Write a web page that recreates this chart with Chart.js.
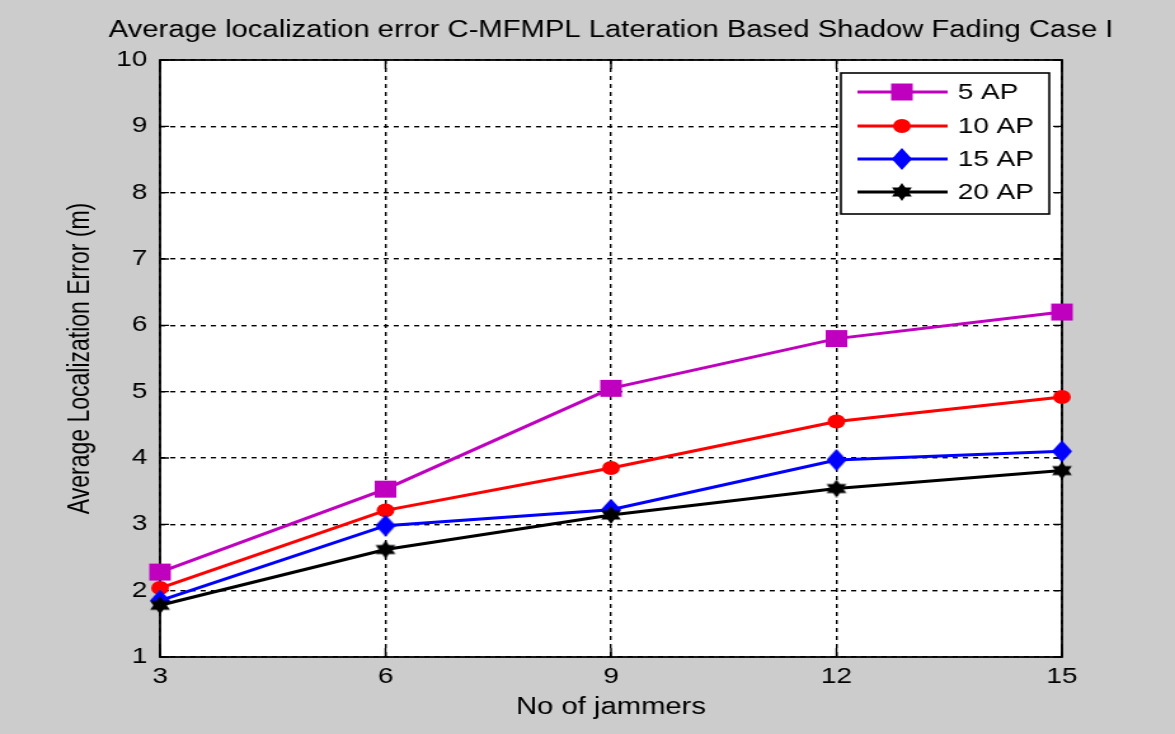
<!DOCTYPE html>
<html>
<head>
<meta charset="utf-8">
<script src="https://cdn.jsdelivr.net/npm/chart.js@4/dist/chart.umd.min.js"></script>
<style>
  html, body { margin: 0; padding: 0; background: #cccccc; overflow: hidden; }
  #c { display: block; }
</style>
</head>
<body>
<canvas id="c" width="925" height="734" style="width:1175px;height:734px;display:block;"></canvas>
<script>
// ---- data ----
const jammers = [3, 6, 9, 12, 15];
const ap5  = [2.28, 3.53, 5.05, 5.80, 6.20];
const ap10 = [2.04, 3.21, 3.85, 4.55, 4.92];
const ap15 = [1.85, 2.98, 3.22, 3.97, 4.10];
const ap20 = [1.78, 2.62, 3.14, 3.54, 3.81];
const seriesNames = ['5 AP', '10 AP', '15 AP', '20 AP'];
const yTickValues = [1, 2, 3, 4, 5, 6, 7, 8, 9, 10];
const xTickValues = [3, 6, 9, 12, 15];
const titleText = 'Average localization error C-MFMPL Lateration Based Shadow Fading Case I';
const xTitle = 'No of jammers';
const yTitle = 'Average Localization Error (m)';

const FONT = '"Liberation Sans", Arial, sans-serif';

// custom marker images
function diamondImg(color) {
  const c = document.createElement('canvas');
  c.width = 16; c.height = 22;
  const g = c.getContext('2d');
  g.fillStyle = color;
  g.beginPath();
  g.moveTo(8, 0); g.lineTo(16, 11); g.lineTo(8, 22); g.lineTo(0, 11); g.closePath();
  g.fill();
  return c;
}
function hexagramImg(color) {
  const c = document.createElement('canvas');
  c.width = 18; c.height = 18;
  const g = c.getContext('2d');
  g.fillStyle = color;
  const cx = 9, cy = 9, r = 9;
  for (const off of [-Math.PI / 2, Math.PI / 2]) {
    g.beginPath();
    for (let i = 0; i < 3; i++) {
      const a = off + i * 2 * Math.PI / 3;
      const px = cx + r * Math.cos(a), py = cy + r * Math.sin(a);
      if (i === 0) g.moveTo(px, py); else g.lineTo(px, py);
    }
    g.closePath();
    g.fill();
  }
  return c;
}

const colors = ['#bf00bf', '#ff0000', '#0000ff', '#000000'];
const styles = ['rect', 'circle', diamondImg('#0000ff'), hexagramImg('#000000')];
const radii = [12, 7, 10, 9];
const seriesValues = [ap5, ap10, ap15, ap20];

const datasets = seriesValues.map((vals, i) => ({
  label: seriesNames[i],
  data: jammers.map((x, j) => ({ x: x, y: vals[j] })),
  borderColor: colors[i],
  backgroundColor: colors[i],
  borderWidth: 3,
  pointStyle: styles[i],
  pointRadius: radii[i],
  pointHoverRadius: radii[i],
  pointBorderWidth: 0,
  pointBackgroundColor: colors[i],
  tension: 0,
  clip: false,
  order: 4 - i
}));

const framePlugin = {
  id: 'frame',
  beforeDraw(chart) {
    const { ctx, chartArea: a } = chart;
    ctx.save();
    ctx.fillStyle = '#cccccc';
    ctx.fillRect(0, 0, chart.width, chart.height);
    ctx.fillStyle = '#ffffff';
    ctx.fillRect(a.left, a.top, a.right - a.left, a.bottom - a.top);
    ctx.restore();
  },
  beforeDatasetsDraw(chart) {
    const { ctx, chartArea: a, scales } = chart;
    ctx.save();
    ctx.setLineDash([]);
    ctx.strokeStyle = '#000000';
    // inward ticks
    ctx.lineWidth = 1.4;
    ctx.beginPath();
    yTickValues.forEach(v => {
      const y = scales.y.getPixelForValue(v);
      ctx.moveTo(a.left, y); ctx.lineTo(a.left + 7, y);
      ctx.moveTo(a.right, y); ctx.lineTo(a.right - 7, y);
    });
    xTickValues.forEach(v => {
      const x = scales.x.getPixelForValue(v);
      ctx.moveTo(x, a.bottom); ctx.lineTo(x, a.bottom - 9);
      ctx.moveTo(x, a.top); ctx.lineTo(x, a.top + 9);
    });
    ctx.stroke();
    // frame
    ctx.lineWidth = 1.8;
    ctx.strokeRect(a.left, a.top, a.right - a.left, a.bottom - a.top);
    ctx.restore();
  },
  afterDraw(chart) {
    const { ctx, chartArea: a } = chart;
    ctx.save();
    ctx.setLineDash([]);
    // title
    ctx.fillStyle = '#000000';
    ctx.font = '23px ' + FONT;
    ctx.textAlign = 'center';
    ctx.textBaseline = 'middle';
    ctx.fillText(titleText, (a.left + a.right) / 2, 31);

    // legend
    const L = 662, R = 826, T = 73, B = 214;
    ctx.fillStyle = '#ffffff';
    ctx.fillRect(L, T, R - L, B - T);
    ctx.lineWidth = 1.6;
    ctx.strokeStyle = '#000000';
    ctx.strokeRect(L, T, R - L, B - T);
    const ys = [92, 126, 159, 192];
    seriesNames.forEach((name, i) => {
      const y = ys[i];
      ctx.strokeStyle = colors[i];
      ctx.lineWidth = 3;
      ctx.beginPath();
      ctx.moveTo(675, y); ctx.lineTo(746, y);
      ctx.stroke();
      ctx.fillStyle = colors[i];
      const mx = 710;
      const st = styles[i];
      if (st === 'rect') {
        const h = radii[i] * Math.SQRT1_2;
        ctx.fillRect(mx - h, y - h, 2 * h, 2 * h);
      } else if (st === 'circle') {
        ctx.beginPath(); ctx.arc(mx, y, radii[i], 0, Math.PI * 2); ctx.fill();
      } else {
        ctx.drawImage(st, mx - st.width / 2, y - st.height / 2);
      }
      ctx.fillStyle = '#000000';
      ctx.font = '22px ' + FONT;
      ctx.textAlign = 'left';
      ctx.textBaseline = 'middle';
      ctx.fillText(name, 754, y + 1);
    });
    ctx.restore();
  }
};

new Chart(document.getElementById('c'), {
  type: 'line',
  data: { datasets },
  plugins: [framePlugin],
  options: {
    responsive: false,
    animation: false,
    devicePixelRatio: 1,
    layout: { padding: { top: 60, right: 89, bottom: 0, left: 0 } },
    plugins: { legend: { display: false }, title: { display: false }, tooltip: { enabled: false } },
    scales: {
      x: {
        type: 'linear',
        min: 3, max: 15,
        afterBuildTicks(scale) { scale.ticks = xTickValues.map(v => ({ value: v })); },
        afterFit(scale) { scale.height = 77; },
        grid: { color: '#000000', lineWidth: 1.4, drawTicks: false },
        border: { display: false, dash: [4, 4] },
        ticks: { color: '#000000', font: { family: FONT, size: 22 }, padding: 7, maxRotation: 0 },
        title: { display: true, text: xTitle, color: '#000000', font: { family: FONT, size: 23 }, padding: { top: 0, bottom: 13 } }
      },
      y: {
        type: 'linear',
        min: 1, max: 10,
        afterBuildTicks(scale) { scale.ticks = yTickValues.map(v => ({ value: v })); },
        afterFit(scale) { scale.width = 126; },
        grid: { color: '#000000', lineWidth: 1.4, drawTicks: false },
        border: { display: false, dash: [4, 4] },
        ticks: { color: '#000000', font: { family: FONT, size: 22 }, padding: 10 },
        title: { display: true, text: yTitle, color: '#000000', font: { family: FONT, size: 23 }, padding: { top: 50, bottom: 0 } }
      }
    }
  }
});
</script>
</body>
</html>
